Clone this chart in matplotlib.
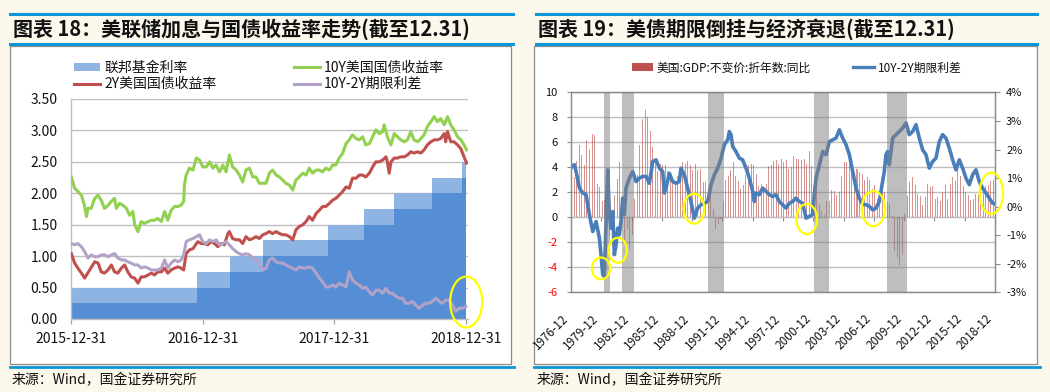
import matplotlib
matplotlib.use('Agg')
import matplotlib.pyplot as plt
import matplotlib.dates as mdates
import numpy as np
import pandas as pd
from matplotlib.patches import Rectangle, Ellipse, Patch
from matplotlib.lines import Line2D

plt.rcParams['font.family'] = ['Noto Sans CJK SC', 'DejaVu Sans']
plt.rcParams['axes.unicode_minus'] = False

# ---------------- data: left chart (daily readings, days after 2015-12-31) ----------------
base_date = '2015-12-31'
ff_dates = ['2015-12-31', '2016-12-15', '2017-03-16', '2017-06-15', '2017-12-14',
            '2018-03-22', '2018-06-14', '2018-09-27', '2018-12-20', '2018-12-31']
ff_lower = [0.25, 0.50, 0.75, 1.00, 1.25, 1.50, 1.75, 2.00, 2.25, 2.25]
ff_upper = [0.50, 0.75, 1.00, 1.25, 1.50, 1.75, 2.00, 2.25, 2.50, 2.50]

y10_days = [0, 9, 18, 28, 37, 42, 46, 55, 65, 74,
            83, 92, 102, 111, 120, 125, 134, 143, 153, 162,
            171, 176, 185, 194, 203, 213, 222, 231, 240, 250,
            259, 268, 277, 287, 296, 305, 312, 314, 319, 328,
            338, 347, 356, 365, 375, 384, 393, 402, 412, 421,
            430, 439, 448, 458, 467, 476, 485, 495, 504, 513,
            522, 532, 541, 550, 559, 569, 578, 587, 596, 606,
            615, 624, 633, 643, 652, 661, 670, 680, 689, 698,
            707, 717, 726, 735, 744, 754, 763, 772, 781, 791,
            800, 809, 818, 828, 837, 846, 855, 865, 869, 878,
            888, 897, 906, 915, 925, 934, 943, 952, 962, 971,
            980, 989, 999, 1008, 1017, 1026, 1036, 1045, 1054, 1063,
            1073, 1082, 1091, 1098]
y10_vals = [2.26, 2.08, 2.03, 1.97, 1.79, 1.63, 1.76, 1.76, 1.92, 1.97,
            1.89, 1.76, 1.81, 1.87, 1.92, 1.76, 1.84, 1.81, 1.76, 1.65,
            1.71, 1.50, 1.39, 1.55, 1.52, 1.55, 1.57, 1.57, 1.60, 1.55,
            1.71, 1.57, 1.73, 1.79, 1.79, 1.81, 1.87, 2.13, 2.29, 2.40,
            2.37, 2.56, 2.53, 2.42, 2.42, 2.50, 2.40, 2.45, 2.34, 2.45,
            2.34, 2.61, 2.42, 2.37, 2.29, 2.18, 2.37, 2.40, 2.26, 2.26,
            2.16, 2.16, 2.16, 2.32, 2.37, 2.29, 2.26, 2.21, 2.16, 2.13,
            2.05, 2.21, 2.26, 2.32, 2.29, 2.40, 2.32, 2.37, 2.37, 2.34,
            2.40, 2.37, 2.45, 2.45, 2.56, 2.64, 2.79, 2.85, 2.93, 2.87,
            2.85, 2.90, 2.77, 2.79, 2.90, 3.01, 2.95, 2.98, 3.09, 2.90,
            2.77, 2.95, 2.90, 2.85, 2.82, 2.85, 2.98, 2.85, 2.82, 2.87,
            2.93, 3.06, 3.14, 3.22, 3.14, 3.19, 3.09, 3.22, 3.09, 3.01,
            2.90, 2.85, 2.77, 2.69]

y2_days = [0, 9, 18, 28, 37, 42, 51, 65, 74, 83,
           92, 102, 111, 120, 129, 139, 148, 157, 166, 176,
           185, 194, 203, 213, 222, 231, 240, 250, 259, 268,
           277, 287, 296, 305, 312, 319, 328, 338, 351, 361,
           370, 379, 388, 398, 407, 416, 425, 435, 439, 448,
           458, 467, 476, 485, 495, 504, 513, 522, 532, 541,
           550, 559, 569, 578, 587, 596, 606, 615, 624, 633,
           643, 652, 661, 670, 680, 689, 698, 707, 717, 726,
           735, 744, 754, 763, 772, 781, 791, 800, 809, 818,
           828, 837, 846, 855, 865, 874, 878, 883, 888, 897,
           906, 915, 925, 934, 943, 952, 962, 971, 980, 989,
           999, 1008, 1017, 1026, 1036, 1040, 1045, 1054, 1063, 1073,
           1082, 1091, 1098]
y2_vals = [1.04, 0.89, 0.81, 0.73, 0.65, 0.70, 0.78, 0.91, 0.89, 0.75,
           0.73, 0.78, 0.86, 0.75, 0.73, 0.81, 0.86, 0.75, 0.67, 0.65,
           0.57, 0.67, 0.67, 0.70, 0.73, 0.70, 0.75, 0.75, 0.81, 0.73,
           0.78, 0.81, 0.83, 0.81, 0.78, 1.04, 1.10, 1.12, 1.23, 1.20,
           1.20, 1.18, 1.23, 1.20, 1.15, 1.20, 1.18, 1.36, 1.39, 1.28,
           1.26, 1.26, 1.20, 1.31, 1.26, 1.28, 1.31, 1.28, 1.34, 1.36,
           1.39, 1.36, 1.39, 1.36, 1.34, 1.34, 1.31, 1.26, 1.42, 1.47,
           1.50, 1.55, 1.63, 1.57, 1.68, 1.73, 1.79, 1.79, 1.84, 1.89,
           1.92, 1.97, 2.03, 2.10, 2.08, 2.24, 2.24, 2.29, 2.29, 2.26,
           2.32, 2.42, 2.50, 2.50, 2.53, 2.58, 2.50, 2.32, 2.50, 2.56,
           2.56, 2.58, 2.58, 2.61, 2.66, 2.64, 2.66, 2.64, 2.69, 2.77,
           2.82, 2.85, 2.85, 2.87, 2.95, 2.82, 2.98, 2.82, 2.82, 2.77,
           2.71, 2.58, 2.48]

sp_days = [0, 9, 18, 28, 37, 46, 55, 65, 74, 83,
           92, 102, 111, 120, 129, 139, 148, 157, 166, 176,
           185, 194, 203, 213, 222, 231, 240, 250, 259, 268,
           277, 287, 296, 305, 312, 319, 328, 338, 347, 356,
           365, 375, 384, 393, 402, 412, 421, 430, 439, 448,
           458, 467, 476, 485, 495, 504, 513, 522, 532, 541,
           550, 559, 569, 578, 587, 596, 606, 615, 624, 633,
           643, 652, 661, 670, 680, 689, 698, 707, 717, 726,
           735, 744, 754, 763, 772, 781, 791, 800, 809, 818,
           828, 837, 846, 855, 865, 874, 883, 892, 902, 911,
           920, 929, 939, 948, 957, 966, 976, 985, 994, 1003,
           1013, 1022, 1031, 1040, 1050, 1059, 1068, 1077, 1087, 1096]
sp_vals = [1.20, 1.18, 1.20, 1.15, 1.07, 0.97, 1.02, 0.99, 0.99, 1.02,
           1.02, 0.99, 1.02, 1.04, 0.97, 0.94, 0.94, 0.91, 0.89, 0.86,
           0.86, 0.81, 0.83, 0.81, 0.78, 0.78, 0.78, 0.81, 0.94, 0.81,
           0.89, 0.94, 0.91, 0.94, 1.02, 1.23, 1.26, 1.28, 1.31, 1.34,
           1.23, 1.20, 1.26, 1.23, 1.26, 1.18, 1.20, 1.23, 1.18, 1.12,
           1.07, 1.04, 1.02, 1.04, 1.02, 0.97, 0.94, 0.89, 0.78, 0.81,
           0.94, 0.97, 0.91, 0.89, 0.89, 0.86, 0.83, 0.81, 0.78, 0.83,
           0.81, 0.81, 0.83, 0.81, 0.73, 0.65, 0.59, 0.51, 0.51, 0.54,
           0.51, 0.57, 0.54, 0.51, 0.75, 0.62, 0.57, 0.54, 0.49, 0.51,
           0.43, 0.38, 0.46, 0.46, 0.41, 0.49, 0.41, 0.41, 0.36, 0.33,
           0.33, 0.25, 0.25, 0.28, 0.22, 0.17, 0.22, 0.25, 0.25, 0.28,
           0.33, 0.28, 0.25, 0.30, 0.30, 0.22, 0.12, 0.17, 0.17, 0.20]

left_xtick_dates = ['2015-12-31', '2016-12-31', '2017-12-31', '2018-12-31']
left_yticks = [0.0, 0.5, 1.0, 1.5, 2.0, 2.5, 3.0, 3.5]
left_labels = ['联邦基金利率', '2Y美国国债收益率', '10Y美国国债收益率', '10Y-2Y期限利差']

# ---------------- data: right chart ----------------
gdp_start_quarter = '1976Q4'
gdp_yoy = [4.3,
           3.2, 4.5, 5.8, 5.0,   4.2, 6.2, 5.4, 6.7,   6.6, 2.7, 2.4, 1.3,
           1.4, -0.7, -1.5, 0.1,  1.8, 3.1, 4.4, 1.4,   -2.1, -0.9, -2.5, -1.4,
           1.5, 3.4, 5.8, 7.9,   8.6, 8.0, 6.9, 5.6,   4.5, 3.7, 4.3, 4.2,
           4.2, 3.7, 3.1, 2.9,   2.6, 3.3, 3.2, 4.4,   4.3, 4.5, 4.2, 3.8,
           4.3, 3.8, 3.9, 2.8,   2.8, 2.4, 1.8, 0.7,   -0.9, -0.5, -0.1, 1.3,
           3.0, 3.3, 3.8, 4.4,   3.3, 2.9, 2.3, 2.6,   3.4, 4.2, 4.3, 4.2,
           3.5, 2.5, 2.7, 2.3,   2.7, 4.1, 4.2, 4.5,   4.6, 4.3, 4.7, 4.4,
           4.6, 3.9, 4.0, 4.9,   4.7, 4.7, 4.6, 4.7,   4.3, 5.3, 4.1, 3.0,
           2.4, 1.1, 0.5, 0.2,   1.3, 1.3, 2.2, 2.1,   1.8, 2.0, 3.3, 4.4,
           4.4, 4.3, 3.5, 3.3,   3.9, 3.6, 3.5, 3.0,   3.2, 3.0, 2.3, 2.6,
           1.5, 1.8, 2.2, 2.0,   1.2, 1.1, 0.1, -2.7,  -3.2, -3.9, -3.0, 0.3,
           1.7, 2.8, 3.2, 2.6,   1.9, 1.7, 1.0, 1.6,   2.7, 2.4, 2.5, 1.5,
           1.6, 1.3, 2.0, 2.6,   1.5, 2.7, 3.2, 2.9,   4.0, 3.3, 2.5, 2.0,
           1.8, 1.4, 1.5, 1.9,   1.8, 2.2, 2.4, 2.5,   2.6, 2.9, 3.0]

term_years = [1976.92, 1977.25, 1977.42, 1977.75, 1978.08, 1978.41, 1978.74, 1979.07, 1979.40, 1979.73,
              1979.89, 1980.06, 1980.22, 1980.39, 1980.55, 1980.72, 1980.88, 1981.05, 1981.21, 1981.38,
              1981.54, 1981.71, 1981.87, 1982.04, 1982.20, 1982.37, 1982.70, 1983.03, 1983.36, 1983.69,
              1984.02, 1984.35, 1984.68, 1985.01, 1985.34, 1985.67, 1986.00, 1986.16, 1986.33, 1986.66,
              1986.99, 1987.32, 1987.65, 1987.81, 1988.14, 1988.47, 1988.80, 1989.13, 1989.46, 1989.80,
              1990.13, 1990.46, 1990.79, 1991.12, 1991.45, 1991.78, 1992.11, 1992.44, 1992.60, 1992.77,
              1992.93, 1993.26, 1993.59, 1993.92, 1994.25, 1994.58, 1994.91, 1995.08, 1995.24, 1995.57,
              1995.90, 1996.23, 1996.56, 1996.89, 1997.22, 1997.55, 1997.88, 1998.21, 1998.54, 1998.87,
              1999.20, 1999.53, 1999.86, 2000.20, 2000.53, 2000.86, 2001.02, 2001.19, 2001.52, 2001.85,
              2002.18, 2002.51, 2002.84, 2003.17, 2003.50, 2003.83, 2004.16, 2004.49, 2004.82, 2005.15,
              2005.48, 2005.81, 2006.14, 2006.47, 2006.80, 2007.13, 2007.46, 2007.62, 2007.95, 2008.12,
              2008.28, 2008.45, 2008.78, 2009.11, 2009.44, 2009.77, 2010.10, 2010.43, 2010.76, 2011.09,
              2011.42, 2011.75, 2012.08, 2012.41, 2012.74, 2013.07, 2013.40, 2013.73, 2014.06, 2014.39,
              2014.72, 2015.05, 2015.38, 2015.71, 2016.04, 2016.37, 2016.70, 2017.03, 2017.36, 2017.69,
              2018.02, 2018.35, 2018.68, 2018.92]
term_spread = [1.37, 1.47, 1.23, 0.65, 0.48, 0.42, -0.28, -0.87, -0.52, -1.10,
               -1.68, -2.38, -2.44, -0.52, 1.29, -0.28, -0.75, -0.17, -1.68, -1.33,
               -0.75, -0.98, -0.52, 0.30, -0.28, 0.65, 1.00, 1.23, 0.88, 1.00,
               1.06, 1.06, 0.82, 1.58, 1.64, 1.35, 1.23, 0.48, 0.65, 1.17,
               0.88, 0.82, 0.88, 1.35, 1.12, 0.65, 0.18, -0.40, -0.05, 0.07,
               0.12, 0.18, 0.77, 1.12, 1.35, 1.70, 2.17, 2.34, 2.63, 2.52,
               2.11, 1.93, 1.70, 1.64, 1.35, 1.00, 0.54, 0.18, 0.48, 0.42,
               0.65, 0.54, 0.42, 0.36, 0.42, 0.18, 0.07, -0.05, 0.12, 0.18,
               0.30, 0.18, 0.12, -0.40, -0.34, -0.28, 0.42, 1.00, 1.47, 1.93,
               1.82, 2.28, 2.34, 2.40, 2.69, 2.40, 2.17, 1.82, 1.23, 0.65,
               0.30, 0.07, 0.07, 0.01, -0.11, -0.05, 0.18, 0.54, 1.23, 1.82,
               1.93, 1.47, 2.40, 2.52, 2.63, 2.75, 2.93, 2.52, 2.63, 2.87,
               2.40, 1.99, 1.82, 1.35, 1.58, 1.70, 2.28, 2.52, 2.40, 2.05,
               1.64, 1.29, 1.64, 1.35, 1.00, 0.77, 1.12, 1.29, 0.88, 0.65,
               0.48, 0.30, 0.12, 0.10]

recession_start = [1980.22, 1981.97, 1990.52, 2000.95, 2008.22]
recession_end = [1980.81, 1983.19, 1992.04, 2002.44, 2010.20]
right_xtick_labels = ['1976-12', '1979-12', '1982-12', '1985-12', '1988-12', '1991-12', '1994-12',
                      '1997-12', '2000-12', '2003-12', '2006-12', '2009-12', '2012-12', '2015-12', '2018-12']
right_left_ticks = [-6, -4, -2, 0, 2, 4, 6, 8, 10]
right_right_ticks = [-3, -2, -1, 0, 1, 2, 3, 4]
right_labels = ['美国:GDP:不变价:折年数:同比', '10Y-2Y期限利差']

# ---------------- styling ----------------
W, H = 1050, 392
BG = '#FDF8EC'
RULE = '#0A96D8'
GREEN = '#92D050'
RED = '#C0504D'
PURPLE = '#B3A2C7'
FF_DARK = '#558ED5'
FF_LIGHT = '#8DB4E2'
TERM_BLUE = '#4A7EBB'
GRID = '#BFBFBF'
SPINE = '#8C8C8C'

fig = plt.figure(figsize=(W / 100, H / 100), dpi=100, facecolor=BG)


def fx(x):
    return x / W


def fy(y):
    return 1 - y / H


def frame(rule_x0, rule_x1, box_x0, box_x1, title, text_x):
    for yy in (14, 44):
        fig.add_artist(Line2D([fx(rule_x0), fx(rule_x1)], [fy(yy), fy(yy)],
                              color=RULE, lw=2.2, zorder=-1))
    fig.add_artist(Rectangle((fx(box_x0), fy(364)), fx(box_x1) - fx(box_x0), fy(46) - fy(364),
                             facecolor='white', edgecolor=SPINE, lw=0.9, zorder=-2))
    fig.add_artist(Line2D([fx(box_x0), fx(box_x1 + 3)], [fy(366.5), fy(366.5)],
                          color=RULE, lw=2.0, zorder=-1))
    fig.text(fx(text_x), fy(29.5), title, fontsize=14.4, fontweight='bold',
             color='#111111', ha='left', va='center')
    fig.text(fx(text_x - 1), fy(380), '来源：Wind，国金证券研究所', fontsize=10,
             color='#111111', ha='left', va='center')


frame(10, 513, 10, 511, '图表 18：美联储加息与国债收益率走势(截至12.31)', 13)
frame(536, 1037, 534, 1037, '图表 19：美债期限倒挂与经济衰退(截至12.31)', 538)

# ---------------- left chart ----------------
base = pd.Timestamp(base_date)
axL = fig.add_axes([fx(71), fy(319), fx(468) - fx(71), fy(99) - fy(319)])
axL.set_facecolor('white')
ffx = pd.to_datetime(ff_dates)
axL.fill_between(ffx, 0, ff_upper, step='post', color=FF_LIGHT, lw=0, zorder=1)
axL.fill_between(ffx, 0, ff_lower, step='post', color=FF_DARK, lw=0, zorder=1.1)
axL.plot(base + pd.to_timedelta(y10_days, unit='D'), y10_vals, color=GREEN, lw=2.2, zorder=3)
axL.plot(base + pd.to_timedelta(y2_days, unit='D'), y2_vals, color=RED, lw=2.2, zorder=3)
axL.plot(base + pd.to_timedelta(sp_days, unit='D'), sp_vals, color=PURPLE, lw=2.2, zorder=3)

axL.set_xlim(base - pd.Timedelta(days=1), base + pd.Timedelta(days=1102))
axL.set_ylim(0, 3.5)
axL.set_yticks(left_yticks)
axL.set_yticklabels([f'{v:.2f}' for v in left_yticks])
axL.set_xticks(pd.to_datetime(left_xtick_dates))
axL.set_xticklabels(left_xtick_dates)
axL.set_axisbelow(True)
axL.yaxis.grid(True, color=GRID, lw=1.0)
for s in ('top', 'right'):
    axL.spines[s].set_visible(False)
for s in ('left', 'bottom'):
    axL.spines[s].set_color(GRID)
    axL.spines[s].set_linewidth(1.0)
axL.tick_params(axis='y', length=0, pad=9.5, labelsize=10, labelcolor='#111111')
axL.tick_params(axis='x', length=3.6, width=0.9, color='#A6A6A6', pad=5.5, labelsize=10,
                labelcolor='#111111')

# yellow highlight
axL.add_patch(Ellipse((mdates.date2num(base + pd.Timedelta(days=1097)), 0.27), width=89, height=0.81,
                      fill=False, edgecolor='#FFFF00', lw=1.6, clip_on=False, zorder=6))

hL = [Patch(facecolor=FF_LIGHT, edgecolor='none'),
      Line2D([], [], color=RED, lw=2.2),
      Line2D([], [], color=GREEN, lw=2.2),
      Line2D([], [], color=PURPLE, lw=2.2)]
fig.legend(hL, left_labels, ncol=2, loc='upper left', bbox_to_anchor=(fx(74), fy(61)),
           frameon=False, fontsize=10, handlelength=1.87, handleheight=0.55, handletextpad=0.29,
           columnspacing=5.6, labelspacing=0.15, borderpad=0, borderaxespad=0,
           labelcolor='#111111')

# ---------------- right chart ----------------
axR = fig.add_axes([fx(571), fy(292.4), fx(995) - fx(571), fy(92.4) - fy(292.4)])
axR.set_facecolor('white')
q_end = pd.period_range(gdp_start_quarter, periods=len(gdp_yoy), freq='Q').end_time
gdp_x = q_end.year + (q_end.dayofyear) / np.where(q_end.is_leap_year, 366, 365)
axR.bar(gdp_x, gdp_yoy, width=0.1, color=RED, alpha=0.62, lw=0, zorder=2)
x0 = 1976 + 11 / 12
x1 = 2018 + 11 / 12
axR.set_xlim(x0, x1)
axR.set_ylim(-6, 10)
axR.set_yticks(right_left_ticks)
axR.set_yticklabels([str(v) for v in right_left_ticks])
for lab, v in zip(axR.get_yticklabels(), right_left_ticks):
    lab.set_color('#FF0000' if v < 0 else '#111111')
xt = [x0 + 3 * k for k in range(len(right_xtick_labels))]
axR.set_xticks(xt)
axR.set_xticklabels(right_xtick_labels, rotation=45, ha='right', va='top')
axR.set_axisbelow(True)
axR.yaxis.grid(True, color=GRID, lw=1.0)
for s in axR.spines.values():
    s.set_color(SPINE)
    s.set_linewidth(0.9)
axR.tick_params(axis='y', direction='out', length=3, width=0.8, color=SPINE, pad=6.5, labelsize=8)
axR.tick_params(axis='x', length=0, pad=14, labelsize=8.5, labelcolor='#111111')

zero_axis = axR.secondary_xaxis((0 - (-6)) / 16)
zero_axis.set_xticks(xt)
zero_axis.tick_params(axis='x', direction='out', length=3, width=0.8, color=SPINE, labelbottom=False)
zero_axis.spines['bottom'].set_color('#A6A6A6')

axR2 = axR.twinx()
axR2.set_ylim(-3, 4)
axR2.set_yticks(right_right_ticks)
axR2.set_yticklabels([f'{v}%' for v in right_right_ticks])
axR2.plot(term_years, term_spread, color=TERM_BLUE, lw=2.6, zorder=2)
for a, b in zip(recession_start, recession_end):
    axR2.axvspan(a, b, color='#7F7F7F', alpha=0.5, lw=0, zorder=3)
for s in axR2.spines.values():
    s.set_color(SPINE)
    s.set_linewidth(0.9)
axR2.tick_params(axis='y', direction='out', length=3.5, width=0.8, color=SPINE, pad=4.5,
                 labelsize=8, labelcolor='#111111')

circles = [(1979.89, -4.08, 1.81, 1.74), (1981.55, -2.63, 1.81, 2.0), (1989.10, 0.70, 2.05, 2.4),
           (2000.27, -0.13, 2.05, 2.4), (2006.87, 0.70, 2.31, 2.8), (2018.55, 1.93, 2.31, 3.3)]
for cx, cy, w, h in circles:
    axR2.add_patch(Ellipse((cx, cy), w, h, transform=axR.transData, fill=False,
                           edgecolor='#FFFF00', lw=1.6, clip_on=False, zorder=6))

hR = [Patch(facecolor=RED, edgecolor='none'), Line2D([], [], color=TERM_BLUE, lw=2.4)]
fig.legend(hR, right_labels, ncol=2, loc='center left', bbox_to_anchor=(fx(632), fy(68)),
           frameon=False, fontsize=8.5, handlelength=1.8, handleheight=0.65, handletextpad=0.27,
           columnspacing=3.6, borderpad=0, borderaxespad=0, labelcolor='#111111')

fig.savefig('out.png', dpi=100, facecolor=BG)
